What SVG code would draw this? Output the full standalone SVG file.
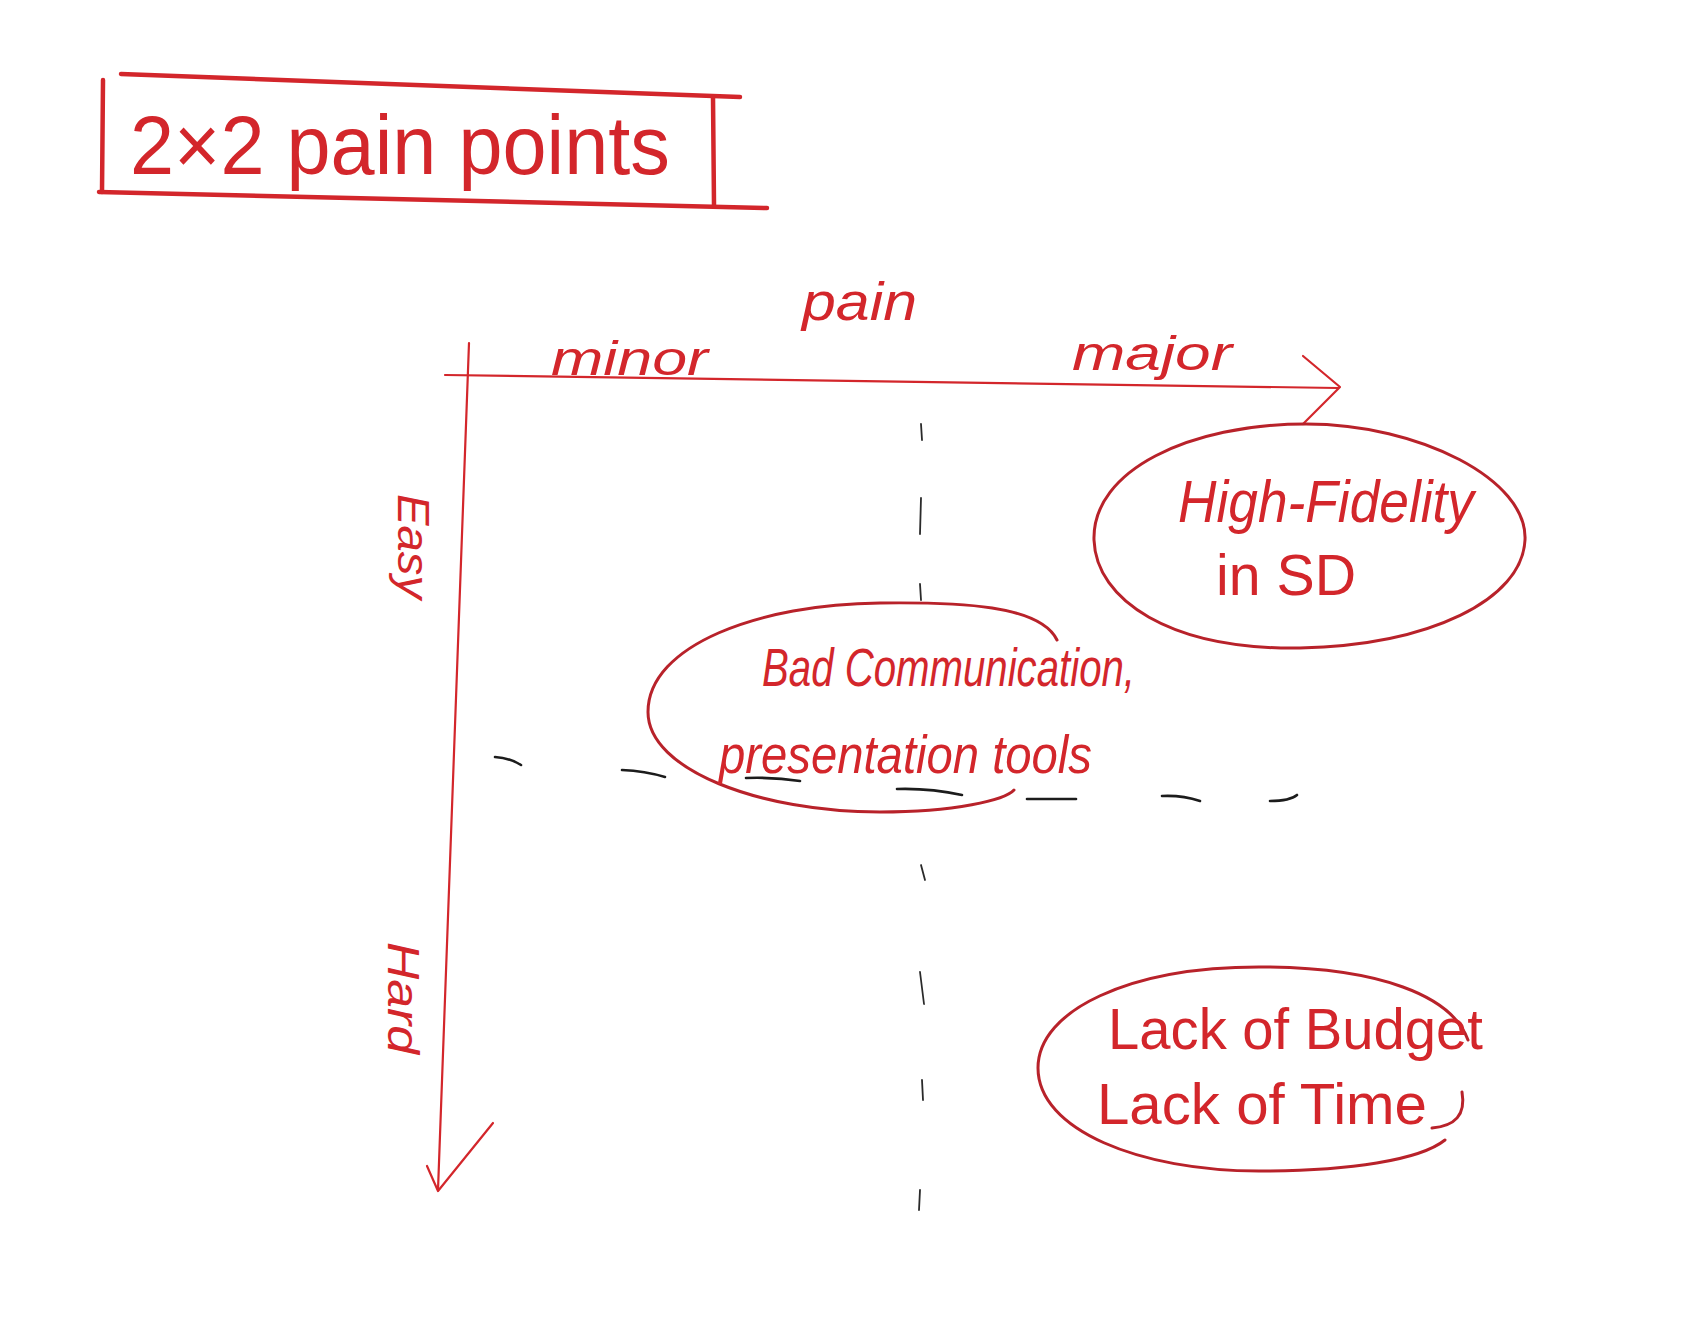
<svg xmlns="http://www.w3.org/2000/svg" width="1695" height="1318" viewBox="0 0 1695 1318">
  <style>
    .ink { fill: none; stroke: #d3262b; stroke-linecap: round; stroke-linejoin: round; }
    .axis { stroke-width: 2.2; }
    .ring { stroke: #b8222a; stroke-width: 3; }
    .box { stroke-width: 4.5; }
    .dash { fill: none; stroke: #1c1c1c; stroke-width: 2.6; stroke-linecap: round; }
    .tick { fill: none; stroke: #2a2a2a; stroke-width: 1.8; stroke-linecap: round; }
    .hand { fill: #d3262b; font-family: "Liberation Sans", "DejaVu Sans", sans-serif; }
  </style>
  <rect width="1695" height="1318" fill="#ffffff"/>

  <!-- title -->
  <g id="title">
    <path class="ink box" d="M121,74 L740,97"/>
    <path class="ink box" d="M103,80 L102,192"/>
    <path class="ink box" d="M99,192 L767,208"/>
    <path class="ink box" d="M713,97 L714,205"/>
    <text class="hand" x="130" y="174" font-size="84" textLength="540" lengthAdjust="spacingAndGlyphs">2×2 pain points</text>
  </g>

  <!-- quadrant dividers -->
  <g id="dividers">
    <path class="tick" d="M921,424 L922,440"/>
    <path class="tick" d="M921,498 L920,534"/>
    <path class="tick" d="M920,584 L921,600"/>
    <path class="tick" d="M921,865 L925,880"/>
    <path class="tick" d="M920,972 L924,1004"/>
    <path class="tick" d="M922,1080 L923,1100"/>
    <path class="tick" d="M920,1190 L919,1210"/>
    <path class="dash" d="M495,757 Q510,758 521,765"/>
    <path class="dash" d="M622,770 Q645,771 665,777"/>
    <path class="dash" d="M746,778 Q775,777 800,781"/>
    <path class="dash" d="M897,789 Q930,788 962,795"/>
    <path class="dash" d="M1027,799 L1076,799"/>
    <path class="dash" d="M1162,796 Q1182,795 1200,801"/>
    <path class="dash" d="M1270,801 Q1290,801 1297,795"/>
  </g>

  <!-- axes -->
  <g id="connectors">
    <path class="ink axis" d="M445,375 Q900,382 1338,388"/>
    <path class="ink axis" d="M1303,356 L1340,387 L1303,424"/>
    <path class="ink axis" d="M469,343 Q452,760 438,1190"/>
    <path class="ink axis" d="M427,1166 L438,1191 L493,1123"/>
  </g>

  <!-- axis labels -->
  <g id="axis-labels">
    <text class="hand" x="802" y="320" font-size="54" font-style="italic" textLength="115" lengthAdjust="spacingAndGlyphs">pain</text>
    <text class="hand" x="551" y="375" font-size="48" font-style="italic" textLength="157" lengthAdjust="spacingAndGlyphs">minor</text>
    <text class="hand" x="1072" y="370" font-size="48" font-style="italic" textLength="160" lengthAdjust="spacingAndGlyphs">major</text>
    <text class="hand" font-size="44" font-style="italic" textLength="105" lengthAdjust="spacingAndGlyphs" transform="translate(398,494) rotate(90)">Easy</text>
    <text class="hand" font-size="44" font-style="italic" textLength="112" lengthAdjust="spacingAndGlyphs" transform="translate(388,942) rotate(90)">Hard</text>
  </g>

  <!-- pain points -->
  <g id="high-fidelity">
    <path class="ink ring" d="M1306,424 C1420,424 1528,480 1525,540 C1522,600 1430,645 1300,648 C1170,650 1096,600 1094,540 C1092,470 1190,424 1306,424 Z"/>
    <text class="hand" x="1178" y="522" font-size="60" font-style="italic" textLength="296" lengthAdjust="spacingAndGlyphs">High-Fidelity</text>
    <text class="hand" x="1216" y="595" font-size="58" textLength="140" lengthAdjust="spacingAndGlyphs">in SD</text>
  </g>

  <g id="bad-communication">
    <path class="ink ring" d="M1057,640 C1040,605 960,602 880,603 C760,604 648,645 648,712 C648,770 760,812 880,812 C955,812 1005,800 1014,790"/>
    <text class="hand" x="762" y="686" font-size="54" font-style="italic" textLength="373" lengthAdjust="spacingAndGlyphs">Bad Communication,</text>
    <text class="hand" x="719" y="773" font-size="54" font-style="italic" textLength="373" lengthAdjust="spacingAndGlyphs">presentation tools</text>
  </g>

  <g id="lack-of-budget">
    <path class="ink ring" d="M1468,1040 C1452,996 1380,967 1259,967 C1130,967 1038,1010 1038,1068 C1038,1130 1140,1171 1259,1171 C1350,1171 1420,1160 1445,1140"/>
    <path class="ink ring" d="M1462,1092 C1466,1115 1455,1126 1432,1128"/>
    <text class="hand" x="1108" y="1049" font-size="58" textLength="375" lengthAdjust="spacingAndGlyphs">Lack of Budget</text>
    <text class="hand" x="1097" y="1124" font-size="58" textLength="330" lengthAdjust="spacingAndGlyphs">Lack of Time</text>
  </g>
</svg>
